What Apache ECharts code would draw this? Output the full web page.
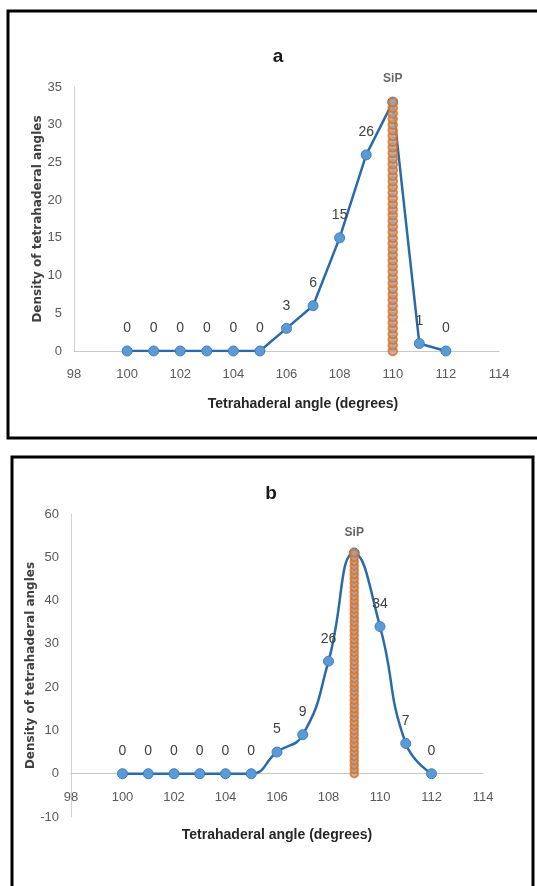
<!DOCTYPE html>
<html>
<head>
<meta charset="utf-8">
<script src="https://cdn.jsdelivr.net/npm/echarts@6/dist/echarts.min.js"></script>
<style>
	html,body{margin:0;padding:0;background:#fff;}
	#chart{width:537px;height:886px;}
</style>
</head>
<body>
<div id="chart"></div>
<script>
//----------------------------
//	data
//----------------------------
var angles    = [100,101,102,103,104,105,106,107,108,109,110,111,112];
var densityA  = [0,0,0,0,0,0,3,6,15,26,33,1,0];
var densityB  = [0,0,0,0,0,0,5,9,26,51,34,7,0];

// SiP marker column (x fixed, y stacked dots)
var sipAngleA = 110;
var sipYA = [0,0.75,1.5,2.25,3,3.75,4.5,5.25,6,6.75,7.5,8.25,9,9.75,10.5,11.25,12,12.75,13.5,14.25,
	15,15.75,16.5,17.25,18,18.75,19.5,20.25,21,21.75,22.5,23.25,24,24.75,25.5,26.25,27,27.75,28.5,29.25,
	30,30.75,31.5,32.25,33];
var sipAngleB = 109;
var sipYB = [0,1,2,3,4,5,6,7,8,9,10,11,12,13,14,15,16,17,18,19,20,21,22,23,24,25,26,27,28,29,
	30,31,32,33,34,35,36,37,38,39,40,41,42,43,44,45,46,47,48,49,50,51];

var xTicks = {min:98, max:114, interval:2};
var yTicksA = {min:0, max:35, interval:5};
var yTicksB = {min:-10, max:60, interval:10};

//----------------------------
//	styles
//----------------------------
var tickFont  = "'Liberation Sans Narrow','Liberation Sans',sans-serif";
var blueLine  = '#2a6aab';
var blueDot   = '#5b9bd5';

var gridA = {left:74, top:87, width:425, height:264};
var gridB = {left:71, top:514, width:412, height:303};

function lineData(xs, ys, hideAt){
	var v = [];
	for(var i=0;i<xs.length;i++){
		if(xs[i]==hideAt){
			v.push({value:[xs[i],ys[i]], label:{show:false}});
		}else{
			v.push([xs[i],ys[i]]);
		}
	}
	return v;
}

function sipData(x, ys){
	var v = [];
	for(var i=0;i<ys.length;i++){
		if(i==ys.length-1){
			v.push({value:[x,ys[i]], label:{show:true}});
		}else{
			v.push([x,ys[i]]);
		}
	}
	return v;
}

// x axis sits at y = 0 of its grid
function xAxisOf(idx, yt, g){
	var off = -(0 - yt.min) / (yt.max - yt.min) * g.height;
	return {
		type:'value', gridIndex:idx,
		min:xTicks.min, max:xTicks.max, interval:xTicks.interval,
		offset:off,
		axisLine:{show:true, onZero:false, lineStyle:{color:'#c8c8c8', width:1}},
		axisTick:{show:false},
		splitLine:{show:false},
		axisLabel:{margin:17, color:'#595959', fontSize:13, fontFamily:tickFont}
	};
}

function yAxisOf(idx, t, gap){
	return {
		type:'value', gridIndex:idx,
		min:t.min, max:t.max, interval:t.interval,
		name:'Density of tetrahaderal angles',
		nameLocation:'middle', nameGap:gap, nameRotate:90,
		nameMoveOverlap:false,
		nameTextStyle:{fontFamily:'DejaVu Sans', fontWeight:'bold', fontSize:12, color:'#404040'},
		axisLine:{show:true, lineStyle:{color:'#d0d0d0', width:1}},
		axisTick:{show:false},
		splitLine:{show:false},
		axisLabel:{margin:12, color:'#595959', fontSize:13, fontFamily:tickFont}
	};
}

function blueSeries(idx, ys, hideAt, smooth){
	return {
		type:'line', xAxisIndex:idx, yAxisIndex:idx,
		data:lineData(angles, ys, hideAt),
		smooth:smooth,
		symbol:'circle', symbolSize:10,
		lineStyle:{color:blueLine, width:2.5},
		itemStyle:{color:blueDot, borderColor:'#3f7fbf', borderWidth:1},
		label:{show:true, position:'top', distance:10, color:'#404040', fontSize:14, fontFamily:tickFont},
		z:2
	};
}

function sipSeries(idx, x, ys, size, dist){
	return {
		type:'scatter', xAxisIndex:idx, yAxisIndex:idx,
		data:sipData(x, ys),
		symbol:'circle', symbolSize:size,
		itemStyle:{color:'#a5a5a5', borderColor:'#e46c1c', borderWidth:2},
		label:{show:false, position:'top', distance:dist, formatter:'SiP',
			color:'#404040', fontSize:12, fontWeight:'bold', fontFamily:tickFont},
		z:3
	};
}

var myChart = echarts.init(document.getElementById('chart'));

var option = {
	animation:false,
	backgroundColor:'#ffffff',
	title:[
		{text:'a', left:273, top:42, textAlign:'center',
			textStyle:{fontSize:19, fontWeight:'bold', color:'#1a1a1a', fontFamily:tickFont}},
		{text:'b', left:266, top:479, textAlign:'center',
			textStyle:{fontSize:19, fontWeight:'bold', color:'#1a1a1a', fontFamily:tickFont}}
	],
	grid:[
		{left:gridA.left, top:gridA.top, width:gridA.width, height:gridA.height, containLabel:false, outerBoundsMode:'none'},
		{left:gridB.left, top:gridB.top, width:gridB.width, height:gridB.height, containLabel:false, outerBoundsMode:'none'}
	],
	xAxis:[xAxisOf(0, yTicksA, gridA), xAxisOf(1, yTicksB, gridB)],
	yAxis:[yAxisOf(0, yTicksA, 30), yAxisOf(1, yTicksB, 34)],
	series:[
		blueSeries(0, densityA, sipAngleA, false),
		sipSeries(0, sipAngleA, sipYA, 8.5, 12),
		blueSeries(1, densityB, sipAngleB, 0.5),
		sipSeries(1, sipAngleB, sipYB, 7.5, 10)
	],
	graphic:[
		{type:'rect', shape:{x:8, y:11, width:545, height:427},
			style:{fill:'none', stroke:'#000', lineWidth:3}, silent:true},
		{type:'rect', shape:{x:12, y:457, width:521, height:445},
			style:{fill:'none', stroke:'#000', lineWidth:3}, silent:true},
		{type:'text', x:303, y:404,
			style:{text:'Tetrahaderal angle (degrees)', textAlign:'center', textVerticalAlign:'middle',
				fontSize:14, fontWeight:'bold', fontFamily:tickFont, fill:'#262626'}},
		{type:'text', x:277, y:835,
			style:{text:'Tetrahaderal angle (degrees)', textAlign:'center', textVerticalAlign:'middle',
				fontSize:14, fontWeight:'bold', fontFamily:tickFont, fill:'#262626'}}
	]
};

myChart.setOption(option);
</script>
</body>
</html>
